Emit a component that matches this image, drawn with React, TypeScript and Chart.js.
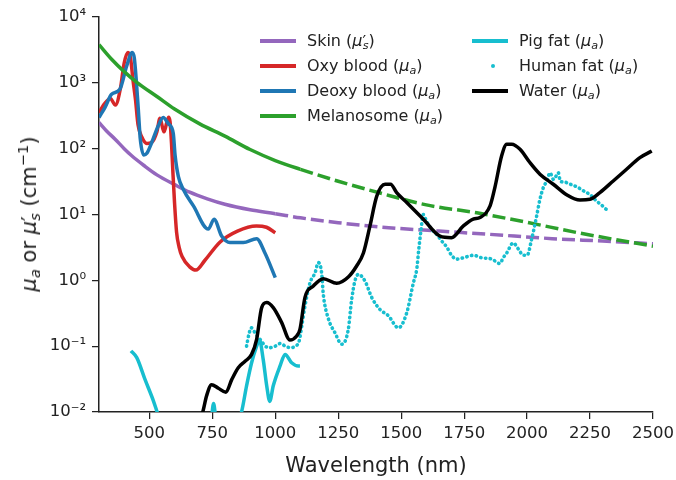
import React, { useEffect, useRef } from 'react';
import { Chart, registerables } from 'chart.js';

Chart.register(...registerables);

const FONT = '"DejaVu Sans", sans-serif';
const INK = '#222222';

// ---------- data (wavelength in nm, coefficients in cm^-1) ----------
const skinWl = [300, 330, 364, 400, 430, 480, 530, 600, 660, 730, 800, 900, 1000, 1100, 1250, 1450, 1650, 1850, 2100, 2300, 2500];
const skinMu = [250, 186, 139, 100, 78, 55, 40, 28.5, 21.8, 17.3, 14.3, 11.8, 10.3, 8.9, 7.5, 6.3, 5.6, 5.0, 4.3, 3.95, 3.6];

const oxyWl = [300, 320, 345, 365, 385, 400, 415, 425, 435, 445, 455, 470, 490, 510, 530, 542, 558, 576, 582, 588, 594, 600, 608, 618, 630, 660, 685, 720, 780, 850, 925, 965, 1000];
const oxyMu = [350, 470, 580, 460, 820, 2000, 2900, 2400, 1100, 550, 230, 150, 120, 125, 180, 290, 180, 300, 260, 120, 40, 15, 5.4, 3.2, 2.3, 1.6, 1.43, 2.0, 3.8, 5.6, 6.7, 6.4, 5.3];

const deoxyWl = [300, 324, 350, 383, 410, 432, 440, 448, 456, 464, 478, 490, 509, 535, 555, 575, 595, 602, 615, 635, 675, 734, 757, 787, 820, 873, 926, 959, 1000];
const deoxyMu = [297, 425, 670, 800, 1800, 2900, 2400, 1100, 400, 140, 80, 85, 123, 221, 297, 240, 170, 80, 38, 24, 13.5, 6.0, 8.5, 4.7, 3.74, 3.74, 4.3, 2.6, 1.1];

const melWl = [300, 350, 400, 450, 530, 600, 700, 800, 900, 1000, 1100, 1250, 1420, 1600, 1800, 2000, 2200, 2500];
const melMu = [3800, 2280, 1480, 1020, 620, 400, 238, 155, 97, 66, 48.6, 32, 21, 14, 10.6, 7.6, 5.3, 3.3];

const pigWl = [427, 450, 483, 516, 535, 560, 650, 740, 748, 755, 762, 770, 820, 866, 886, 906, 926, 937, 952, 966, 978, 992, 1019, 1039, 1065, 1091, 1098];
const pigMu = [0.085, 0.067, 0.031, 0.0148, 0.009, 0.005, 0.003, 0.005, 0.009, 0.0135, 0.009, 0.005, 0.004, 0.01, 0.025, 0.056, 0.1, 0.125, 0.063, 0.025, 0.0145, 0.025, 0.05, 0.075, 0.056, 0.05, 0.05];

const humanWl = [886, 895, 905, 915, 930, 945, 960, 980, 1000, 1020, 1040, 1060, 1080, 1095, 1105, 1118, 1138, 1158, 1171, 1184, 1191, 1211, 1237, 1264, 1290, 1303, 1317, 1330, 1356, 1383, 1416, 1449, 1489, 1522, 1548, 1562, 1570, 1578, 1588, 1600, 1620, 1641, 1660, 1681, 1700, 1720, 1747, 1786, 1820, 1860, 1892, 1905, 1919, 1945, 1965, 1985, 2000, 2018, 2038, 2051, 2065, 2078, 2091, 2105, 2118, 2124, 2132, 2150, 2170, 2200, 2223, 2250, 2276, 2300, 2316, 2329];
const humanMu = [0.1, 0.15, 0.19, 0.17, 0.14, 0.12, 0.1, 0.095, 0.1, 0.11, 0.1, 0.095, 0.1, 0.12, 0.2, 0.41, 0.92, 1.3, 1.86, 1.3, 0.6, 0.26, 0.16, 0.107, 0.18, 0.5, 1.0, 1.23, 0.98, 0.55, 0.36, 0.29, 0.19, 0.32, 0.9, 1.5, 3, 5.5, 10, 8, 6, 5.0, 4.0, 3.2, 2.4, 2.1, 2.2, 2.4, 2.2, 2.1, 1.8, 2.2, 2.6, 3.7, 3.0, 2.4, 2.4, 4.2, 9.5, 17, 26, 32, 43, 34, 40, 43, 32, 31, 29, 26, 23, 20, 16, 13.5, 12, 12.7];

const waterWl = [700, 712, 727, 747, 774, 804, 827, 853, 880, 906, 926, 946, 966, 992, 1025, 1058, 1085, 1098, 1118, 1151, 1191, 1244, 1290, 1323, 1350, 1376, 1403, 1436, 1458, 1482, 1522, 1588, 1654, 1700, 1747, 1786, 1813, 1853, 1872, 1899, 1919, 1939, 1972, 2011, 2051, 2104, 2157, 2210, 2250, 2289, 2342, 2395, 2448, 2495];
const waterMu = [0.008, 0.01, 0.0175, 0.026, 0.023, 0.02, 0.031, 0.047, 0.059, 0.075, 0.127, 0.385, 0.46, 0.385, 0.23, 0.124, 0.143, 0.18, 0.55, 0.82, 1.06, 0.9, 1.12, 1.65, 2.6, 6.7, 19, 28.8, 28.8, 21.5, 15.2, 8.5, 4.7, 4.45, 6.7, 8.5, 9.0, 13.5, 25.6, 78, 117, 117, 98, 61.6, 41, 28.8, 20, 16.6, 17, 21.5, 32.3, 48.6, 73, 92];

const xTicks = [500, 750, 1000, 1250, 1500, 1750, 2000, 2250, 2500];
const yTicks = [0.01, 0.1, 1, 10, 100, 1000, 10000];
const yTickLabels = ['10⁻²', '10⁻¹', '10⁰', '10¹', '10²', '10³', '10⁴'];

const COLORS = {
  skin: '#9467bd',
  oxy: '#d62728',
  deoxy: '#1f77b4',
  mel: '#2ca02c',
  fat: '#17becf',
  water: '#000000',
};

const toPts = (xs: number[], ys: number[]) => xs.map((x, i) => ({ x, y: ys[i] }));

// ---------- small math-text helpers ----------
const Sub = ({ t }: { t: string }) => (
  <i style={{ fontSize: '0.7em', position: 'relative', top: '0.3em' }}>{t}</i>
);
const MuA = () => (
  <span>
    <i>μ</i>
    <Sub t="a" />
  </span>
);
const MuSPrime = () => (
  <span>
    <i>μ</i>
    <span style={{ fontSize: '1em', position: 'relative', top: '0.05em' }}>′</span>
    <span style={{ marginLeft: '-0.22em' }}>
      <Sub t="s" />
    </span>
  </span>
);

type Row = { x: number; y: number; color: string; kind: 'line' | 'dot'; label: React.ReactNode };

const legendRows: Row[] = [
  { x: 260, y: 41, color: COLORS.skin, kind: 'line', label: <>Skin (<MuSPrime />)</> },
  { x: 260, y: 66, color: COLORS.oxy, kind: 'line', label: <>Oxy blood (<MuA />)</> },
  { x: 260, y: 91, color: COLORS.deoxy, kind: 'line', label: <>Deoxy blood (<MuA />)</> },
  { x: 260, y: 116, color: COLORS.mel, kind: 'line', label: <>Melanosome (<MuA />)</> },
  { x: 472, y: 41, color: COLORS.fat, kind: 'line', label: <>Pig fat (<MuA />)</> },
  { x: 472, y: 66, color: COLORS.fat, kind: 'dot', label: <>Human fat (<MuA />)</> },
  { x: 472, y: 91, color: COLORS.water, kind: 'line', label: <>Water (<MuA />)</> },
];

export default function App() {
  const ref = useRef<HTMLCanvasElement>(null);

  useEffect(() => {
    if (!ref.current) return;
    const dashAfter = (limit: number) => (ctx: any) =>
      ctx.p0.parsed.x >= limit ? [13, 5] : undefined;

    const chart = new Chart(ref.current, {
      type: 'line',
      data: {
        datasets: [
          {
            label: 'Skin',
            data: toPts(skinWl, skinMu),
            borderColor: COLORS.skin,
            segment: { borderDash: dashAfter(1000) },
            order: 7,
          },
          {
            label: 'Oxy blood',
            data: toPts(oxyWl, oxyMu),
            borderColor: COLORS.oxy,
            order: 6,
          },
          {
            label: 'Deoxy blood',
            data: toPts(deoxyWl, deoxyMu),
            borderColor: COLORS.deoxy,
            order: 5,
          },
          {
            label: 'Melanosome',
            data: toPts(melWl, melMu),
            borderColor: COLORS.mel,
            segment: { borderDash: dashAfter(1100) },
            order: 4,
          },
          {
            label: 'Pig fat',
            data: toPts(pigWl, pigMu),
            borderColor: COLORS.fat,
            clip: 0,
            order: 3,
          },
          {
            label: 'Human fat',
            data: toPts(humanWl, humanMu),
            borderColor: COLORS.fat,
            borderWidth: 3.6,
            borderDash: [0.4, 4.4],
            borderCapStyle: 'round',
            order: 2,
          },
          {
            label: 'Water',
            data: toPts(waterWl, waterMu),
            borderColor: COLORS.water,
            clip: 0,
            order: 1,
          },
        ] as any,
      },
      options: {
        responsive: false,
        animation: false,
        devicePixelRatio: 1,
        layout: { padding: { top: 17, right: 23, left: 0, bottom: 0 } },
        plugins: { legend: { display: false }, tooltip: { enabled: false } },
        elements: {
          point: { radius: 0 },
          line: { cubicInterpolationMode: 'monotone', borderWidth: 3.5, fill: false },
        },
        scales: {
          x: {
            type: 'linear',
            min: 300,
            max: 2500,
            afterBuildTicks: (s: any) => {
              s.ticks = xTicks.map((v) => ({ value: v }));
            },
            afterFit: (s: any) => {
              s.height = 68;
              s.paddingLeft = 0;
              s.paddingRight = 0;
            },
            ticks: {
              color: INK,
              font: { family: FONT, size: 16.5 },
              padding: 5,
              maxRotation: 0,
              autoSkip: false,
              callback: (v: any) => String(v),
            },
            grid: { drawOnChartArea: false, drawTicks: true, tickLength: 7, color: INK, lineWidth: 1.25 },
            border: { display: true, color: INK, width: 1.5 },
            title: {
              display: true,
              text: 'Wavelength (nm)',
              color: INK,
              font: { family: FONT, size: 21 },
              padding: { top: 0, bottom: 1 },
            },
          },
          y: {
            type: 'logarithmic',
            min: 0.01,
            max: 10000,
            afterBuildTicks: (s: any) => {
              s.ticks = yTicks.map((v) => ({ value: v }));
            },
            afterFit: (s: any) => {
              s.width = 99;
              s.paddingTop = 0;
              s.paddingBottom = 0;
            },
            ticks: {
              color: INK,
              font: { family: FONT, size: 16.5 },
              padding: 6,
              autoSkip: false,
              callback: (v: any) => {
                const i = yTicks.indexOf(Number(v));
                return i >= 0 ? yTickLabels[i] : '';
              },
            },
            grid: { drawOnChartArea: false, drawTicks: true, tickLength: 7, color: INK, lineWidth: 1.25 },
            border: { display: true, color: INK, width: 1.5 },
          },
        },
      } as any,
    });
    return () => chart.destroy();
  }, []);

  return (
    <div style={{ position: 'fixed', left: 0, top: 0, width: 676, height: 480, background: '#fff', fontFamily: FONT, color: INK }}>
      <canvas ref={ref} width={676} height={480} style={{ display: 'block' }} />
      {legendRows.map((r, i) => (
        <React.Fragment key={i}>
          {r.kind === 'line' ? (
            <div style={{ position: 'absolute', left: r.x, top: r.y - 2, width: 36, height: 4, background: r.color }} />
          ) : (
            <div style={{ position: 'absolute', left: r.x + 19, top: r.y - 2, width: 4, height: 4, borderRadius: 2, background: r.color }} />
          )}
          <div
            style={{
              position: 'absolute',
              left: r.x + 47,
              top: r.y - 11,
              height: 22,
              lineHeight: '22px',
              fontSize: 16,
              whiteSpace: 'nowrap',
            }}
          >
            {r.label}
          </div>
        </React.Fragment>
      ))}
      <div
        style={{
          position: 'absolute',
          left: 30,
          top: 214,
          transform: 'translate(-50%, -50%) rotate(-90deg)',
          whiteSpace: 'nowrap',
          fontSize: 21,
          lineHeight: '26px',
        }}
      >
        <MuA /> or <MuSPrime /> (cm<span style={{ fontSize: '0.7em', position: 'relative', top: '-0.55em' }}>−1</span>)
      </div>
    </div>
  );
}
